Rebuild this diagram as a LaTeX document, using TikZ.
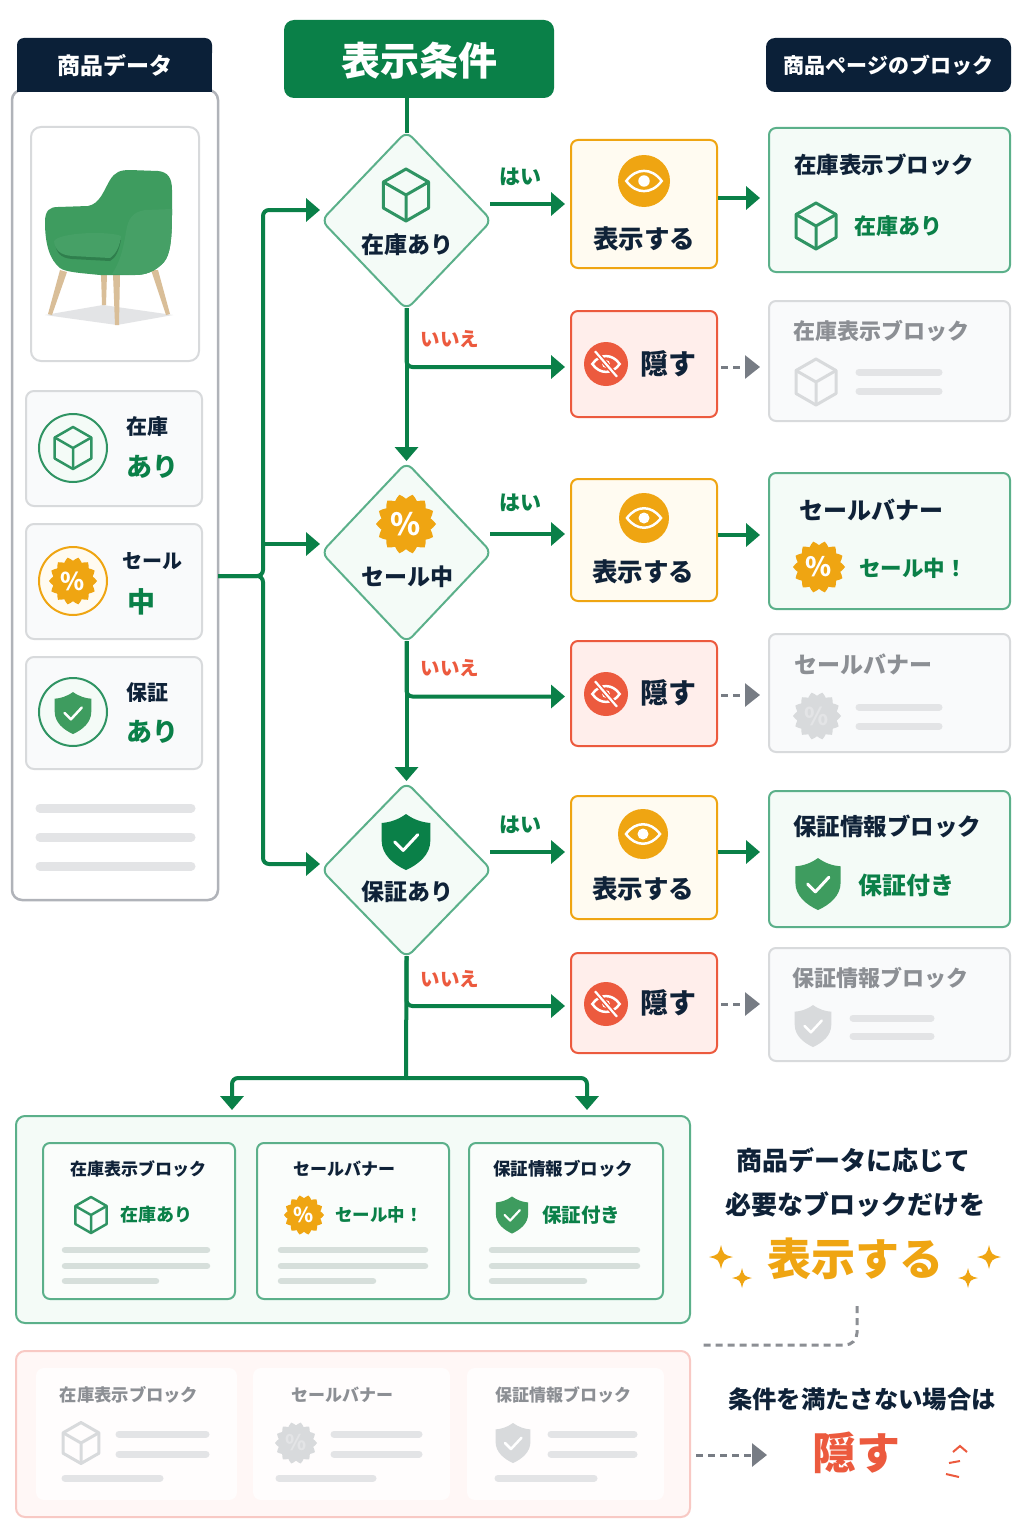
\documentclass[tikz,border=0pt]{standalone}
\usepackage{fontspec}
\setmainfont{Noto Sans CJK JP}
\usetikzlibrary{arrows.meta,shapes.geometric}

\definecolor{ink}{HTML}{0F2238}
\definecolor{navy}{HTML}{0B2038}
\definecolor{leaf}{HTML}{0A8048}
\definecolor{leafsoft}{HTML}{5BB08A}
\definecolor{mint}{HTML}{F4FBF7}
\definecolor{shieldgreen}{HTML}{3E9C5F}
\definecolor{cubegreen}{HTML}{2F9463}
\definecolor{chairdark}{HTML}{2F7F4D}
\definecolor{chairlight}{HTML}{46A066}
\definecolor{wood}{HTML}{D9BE98}
\definecolor{amber}{HTML}{EFA512}
\definecolor{amberpale}{HTML}{FFFBF1}
\definecolor{coral}{HTML}{EC5A3E}
\definecolor{coralpale}{HTML}{FFEEEB}
\definecolor{rosepale}{HTML}{FFF7F6}
\definecolor{rose}{HTML}{F8C9C4}
\definecolor{mute}{HTML}{8C8F94}
\definecolor{ghost}{HTML}{D8DADC}
\definecolor{ghostbar}{HTML}{E3E4E6}
\definecolor{ghostfill}{HTML}{F9FAFB}
\definecolor{edge}{HTML}{B0B3B9}
\definecolor{dash}{HTML}{777C84}
\definecolor{softbar}{HTML}{D6DFDB}

\tikzset{
	tx/.style={inner sep=0pt,font=\fontsize{#1}{#1}\selectfont\bfseries},
	sz/.style 2 args={minimum width=#1,minimum height=#2,inner sep=0pt},
	flow/.style={draw=leaf,line width=4pt},
	flowtip/.style={flow,-{Triangle[length=14pt,width=23pt]}},
	dashtip/.style={draw=dash,line width=3pt,dashed,dash pattern=on 7pt off 5pt,-{Triangle[length=15pt,width=23pt,color=dash]}},
	dianode/.style={diamond,draw=leafsoft,fill=mint,line width=2pt,rounded corners=8pt,inner sep=0pt},
	okbox/.style={rectangle,draw=leafsoft,fill=mint,line width=2pt,rounded corners=7pt},
	showbox/.style={rectangle,draw=amber,fill=amberpale,line width=2pt,rounded corners=7pt},
	hidebox/.style={rectangle,draw=coral,fill=coralpale,line width=2pt,rounded corners=7pt},
	offbox/.style={rectangle,draw=ghost,fill=ghostfill,line width=2pt,rounded corners=7pt},
	infobox/.style={rectangle,draw=ghost,fill=ghostfill,line width=2pt,rounded corners=8pt},
	ring/.style={circle,line width=2pt,minimum size=68pt,inner sep=0pt},
	skel/.style={line width=#1,line cap=round},
}

\newcommand{\cubeicon}[5]{
	\begin{scope}[shift={(#1,#2)},scale=#3]
		\draw[#4,line width=#5,line join=round] (0,-1) -- (0.87,-0.5) -- (0.87,0.5) -- (0,1) -- (-0.87,0.5) -- (-0.87,-0.5) -- cycle;
		\draw[#4,line width=#5,line join=round] (-0.87,-0.5) -- (0,0) -- (0.87,-0.5) (0,0) -- (0,1);
	\end{scope}
}
\newcommand{\badgeicon}[6]{
	\begin{scope}[shift={(#2,#3)},scale=#4]
		\fill[#5,line join=round] plot[domain=0:360,samples=57] (\x:{0.92+0.08*cos(14*\x)}) -- cycle;
	\end{scope}
	\pgfmathsetmacro{\pctsize}{#4*1.02}
	\node[tx=\pctsize,text=#6] (#1) at (#2,#3) {\%};
}
\newcommand{\shieldicon}[6]{
	\begin{scope}[shift={(#1,#2)},scale=#3]
		\fill[#4] (0,-1) .. controls (0.3,-0.78) and (0.6,-0.7) .. (0.87,-0.68) -- (0.87,-0.05) .. controls (0.87,0.45) and (0.45,0.8) .. (0,1) .. controls (-0.45,0.8) and (-0.87,0.45) .. (-0.87,-0.05) -- (-0.87,-0.68) .. controls (-0.6,-0.7) and (-0.3,-0.78) .. (0,-1) -- cycle;
		\draw[#5,line width=#6,line cap=round,line join=round] (-0.4,0) -- (-0.1,0.3) -- (0.42,-0.26);
	\end{scope}
}
\newcommand{\eyeicon}[3]{
	\fill[amber] (#1,#2) circle (#3);
	\begin{scope}[shift={(#1,#2)},scale=#3]
		\draw[white,line width=2.5pt] (-0.68,0) .. controls (-0.3,-0.52) and (0.3,-0.52) .. (0.68,0) .. controls (0.3,0.52) and (-0.3,0.52) .. (-0.68,0) -- cycle;
		\fill[white] (0,0) circle (0.22);
	\end{scope}
}
\newcommand{\hideicon}[3]{
	\fill[coral] (#1,#2) circle (#3);
	\begin{scope}[shift={(#1,#2)},scale=#3]
		\draw[white,line width=2.5pt] (-0.62,0) .. controls (-0.3,-0.48) and (0.3,-0.48) .. (0.62,0) .. controls (0.3,0.48) and (-0.3,0.48) .. (-0.62,0) -- cycle;
		\fill[white] (0,0) circle (0.18);
		\draw[coral,line width=5pt] (-0.5,-0.58) -- (0.5,0.58);
		\draw[white,line width=2.2pt] (-0.5,-0.58) -- (0.5,0.58);
	\end{scope}
}
\newcommand{\sparkicon}[3]{
	\begin{scope}[shift={(#1,#2)},scale=#3]
		\fill[amber] (0,-1) .. controls (0.2,-0.2) .. (1,0) .. controls (0.2,0.2) .. (0,1) .. controls (-0.2,0.2) .. (-1,0) .. controls (-0.2,-0.2) .. (0,-1) -- cycle;
	\end{scope}
}

\begin{document}
\begin{tikzpicture}[x=1pt,y=-1pt]
	\useasboundingbox (0,0) rectangle (1024,1536);
	\fill[white] (0,0) rectangle (1024,1536);

	\node[rectangle,draw=edge,fill=white,line width=2.5pt,rounded corners=10pt,sz={206}{810}] (dataPanel) at (115,495) {};
	\fill[navy,rounded corners=7pt] (17,60) -- (17,38) -- (212,38) -- (212,60) -- cycle;
	\fill[navy] (17,52) rectangle (212,92);
	\node[tx=23,text=white] (dataHead) at (115,66) {商品データ};
	\node[rectangle,fill=leaf,rounded corners=10pt,sz={270}{78}] (condHead) at (419,59) {};
	\node[tx=39,text=white] (condText) at (419.5,61) {表示条件};
	\node[rectangle,fill=navy,rounded corners=9pt,sz={245}{54},tx=21,text=white] (pageHead) at (888.5,65) {商品ページのブロック};

	\node[rectangle,draw=ghost,fill=white,line width=2pt,rounded corners=10pt,sz={168}{234}] (chairBox) at (115,244) {};
	\fill[ghostbar] (45,315) -- (103,305) -- (173,315) -- (117,325) -- cycle;
	\fill[wood] (60,270) -- (67,272) -- (52,315) -- (48,314) -- cycle;
	\fill[wood] (101,274) -- (107,274) -- (106,305) -- (102,305) -- cycle;
	\fill[wood] (113,274) -- (120,274) -- (119,325) -- (115,325) -- cycle;
	\fill[wood] (151,270) -- (158,270) -- (170,314) -- (166,315) -- cycle;
	\fill[shieldgreen] (45,222) .. controls (45,210) and (50,207) .. (58,207) -- (88,206) .. controls (100,204) and (104,190) .. (110,180) .. controls (115,172) and (120,170) .. (130,170) -- (158,171) .. controls (168,172) and (172,178) .. (172,190) -- (172,215) .. controls (172,240) and (170,255) .. (164,262) .. controls (155,272) and (145,275) .. (135,275) -- (100,275) .. controls (80,273) and (65,272) .. (60,268) .. controls (50,260) and (45,245) .. (45,222) -- cycle;
	\fill[chairlight] (172,209) -- (145,210) .. controls (133,212) and (128,218) .. (126,232) .. controls (123,250) and (120,262) .. (112,274) -- (135,275) .. controls (145,275) and (155,272) .. (164,262) .. controls (170,255) and (172,240) .. (172,215) -- cycle;
	\fill[chairdark] (55,243) .. controls (56,252) and (60,258) .. (72,259) -- (110,261) .. controls (116,258) and (119,250) .. (121,240) -- cycle;
	\fill[chairlight] (54,241) .. controls (60,232) and (110,231) .. (121,236) .. controls (120,246) and (116,254) .. (110,258) -- (72,256) .. controls (60,255) and (55,250) .. (54,241) -- cycle;

	\node[infobox,sz={176}{115}] (stockCard) at (114,448.5) {};
	\node[infobox,sz={176}{115}] (saleCard) at (114,581.5) {};
	\node[infobox,sz={176}{112}] (warrantyCard) at (114,713) {};
	\node[ring,draw=cubegreen,fill=mint] (stockRing) at (73,448) {};
	\node[ring,draw=amber,fill=amberpale] (saleRing) at (73,581) {};
	\node[ring,draw=cubegreen,fill=mint] (warrantyRing) at (73,712) {};
	\cubeicon{73}{448}{21}{cubegreen}{2.5pt}
	\badgeicon{salePct}{73}{581}{24}{amber}{white}
	\shieldicon{73}{713}{21}{shieldgreen}{white}{2.5pt}
	\node[tx=21,text=ink] (stockKey) at (147,427) {在庫};
	\node[tx=26,text=leaf] (stockVal) at (152,467) {あり};
	\node[tx=20,text=ink] (saleKey) at (152,561) {セール};
	\node[tx=28,text=leaf] (saleVal) at (141,602) {中};
	\node[tx=21,text=ink] (warrantyKey) at (147,693) {保証};
	\node[tx=26,text=leaf] (warrantyVal) at (152,732) {あり};
	\draw[skel=9pt,ghostbar] (40,808) -- (191,808);
	\draw[skel=9pt,ghostbar] (40,837) -- (191,837);
	\draw[skel=9pt,ghostbar] (40,866) -- (191,866);

	\node[dianode,sz={171}{179}] (dia1) at (406.5,220.5) {};
	\node[dianode,sz={171}{181}] (dia2) at (406.5,552.5) {};
	\node[dianode,sz={171}{176}] (dia3) at (406.5,870) {};
	\cubeicon{406}{195}{26}{cubegreen}{3pt}
	\badgeicon{diaPct}{406}{524}{30}{amber}{white}
	\shieldicon{406}{842}{28}{leaf}{white}{3pt}
	\node[tx=23,text=ink] (dia1Text) at (407.5,245) {在庫あり};
	\node[tx=23,text=ink] (dia2Text) at (407,577) {セール中};
	\node[tx=23,text=ink] (dia3Text) at (407.5,892) {保証あり};

	\node[showbox,sz={146}{128}] (show1) at (644,204) {};
	\node[hidebox,sz={146}{106}] (hide1) at (644,364) {};
	\node[showbox,sz={146}{122}] (show2) at (644,540) {};
	\node[hidebox,sz={146}{105}] (hide2) at (644,693.5) {};
	\node[showbox,sz={146}{123}] (show3) at (644,857.5) {};
	\node[hidebox,sz={146}{100}] (hide3) at (644,1003) {};
	\eyeicon{644}{181}{26}
	\eyeicon{644}{518}{25}
	\eyeicon{643}{834}{25}
	\hideicon{606}{364}{22}
	\hideicon{606}{694}{22}
	\hideicon{606}{1004}{22}
	\node[tx=25.5,text=ink] (show1Text) at (644,239) {表示する};
	\node[tx=25.5,text=ink] (show2Text) at (643,572) {表示する};
	\node[tx=25.5,text=ink] (show3Text) at (643,889) {表示する};
	\node[tx=28,text=ink] (hide1Text) at (668,364) {隠す};
	\node[tx=28,text=ink] (hide2Text) at (668,693) {隠す};
	\node[tx=28,text=ink] (hide3Text) at (668,1003) {隠す};

	\node[okbox,sz={241}{144}] (block1) at (889.5,200) {};
	\node[offbox,sz={241}{120}] (ghost1) at (889.5,361) {};
	\node[okbox,sz={241}{136}] (block2) at (889.5,541) {};
	\node[offbox,sz={241}{118}] (ghost2) at (889.5,693) {};
	\node[okbox,sz={241}{136}] (block3) at (889.5,859) {};
	\node[offbox,sz={241}{113}] (ghost3) at (889.5,1004.5) {};
	\node[tx=22.5,text=ink] (block1Title) at (884,165) {在庫表示ブロック};
	\node[tx=22,text=leaf] (block1Text) at (898,226) {在庫あり};
	\cubeicon{816}{226}{23}{cubegreen}{3pt}
	\node[tx=22,text=mute] (ghost1Title) at (881,331) {在庫表示ブロック};
	\cubeicon{816}{382}{23}{ghost}{3pt}
	\draw[skel=7pt,ghostbar] (859,372) -- (939,372);
	\draw[skel=7pt,ghostbar] (859,391) -- (939,391);
	\node[tx=24,text=ink] (block2Title) at (871,510) {セールバナー};
	\node[tx=21.5,text=leaf] (block2Text) at (913,568) {セール中！};
	\badgeicon{block2Pct}{819}{567}{26}{amber}{white}
	\node[tx=23,text=mute] (ghost2Title) at (863,664) {セールバナー};
	\badgeicon{ghost2Pct}{817}{716}{24}{ghost}{ghostbar}
	\draw[skel=7pt,ghostbar] (859,707) -- (939,707);
	\draw[skel=7pt,ghostbar] (859,726) -- (939,726);
	\node[tx=23.5,text=ink] (block3Title) at (887,826) {保証情報ブロック};
	\node[tx=24,text=leaf] (block3Text) at (906,885) {保証付き};
	\shieldicon{818}{884}{26}{shieldgreen}{white}{3pt}
	\node[tx=22,text=mute] (ghost3Title) at (880,978) {保証情報ブロック};
	\shieldicon{813}{1026}{21}{ghost}{white}{2.5pt}
	\draw[skel=7pt,ghostbar] (853,1018) -- (931,1018);
	\draw[skel=7pt,ghostbar] (853,1036) -- (931,1036);

	\coordinate (src) at (218,576);
	\coordinate (trunk) at (263,576);
	\coordinate (in1) at (320,210);
	\coordinate (in2) at (320,544);
	\coordinate (in3) at (320,864);
	\draw[flowtip,rounded corners=6pt] (src) -| (trunk |- in1) -- (in1);
	\draw[flowtip,rounded corners=6pt] (src) -| (trunk |- in3) -- (in3);
	\draw[flowtip] (trunk |- in2) -- (in2);

	\draw[flow,shorten >=-3pt] (dia1.north |- condHead.south) -- (dia1.north);
	\draw[flowtip,shorten <=-3pt] (dia1.south) -- (dia2.north);
	\draw[flowtip,shorten <=-3pt] (dia2.south) -- (dia3.north);

	\coordinate (yes2) at ([yshift=6pt]show2.west);
	\coordinate (yes3) at ([yshift=5.5pt]show3.west);
	\draw[flowtip,shorten >=5pt,shorten <=-3pt] (dia1.east |- show1.west) -- (show1.west);
	\draw[flowtip,shorten >=5pt,shorten <=-3pt] (dia2.east |- yes2) -- (yes2);
	\draw[flowtip,shorten >=5pt,shorten <=-3pt] (dia3.east |- yes3) -- (yes3);
	\draw[flowtip,rounded corners=6pt,shorten >=5pt,shorten <=-3pt] (dia1.south) |- ([yshift=-3pt]hide1.west);
	\draw[flowtip,rounded corners=6pt,shorten >=5pt,shorten <=-3pt] (dia2.south) |- ([yshift=-3pt]hide2.west);
	\draw[flowtip,rounded corners=6pt,shorten >=5pt,shorten <=-3pt] (dia3.south) |- ([yshift=-3pt]hide3.west);

	\draw[flowtip,shorten >=8pt] ([yshift=6pt]show1.east) -- ([yshift=6pt]show1.east -| block1.west);
	\draw[flowtip,shorten >=8pt] ([yshift=5pt]show2.east) -- ([yshift=5pt]show2.east -| block2.west);
	\draw[flowtip,shorten >=8pt] ([yshift=5.5pt]show3.east) -- ([yshift=5.5pt]show3.east -| block3.west);
	\draw[dashtip,shorten <=3pt,shorten >=8pt] ([yshift=-3pt]hide1.east) -- ([yshift=-3pt]hide1.east -| ghost1.west);
	\draw[dashtip,shorten <=3pt,shorten >=8pt] ([yshift=-1.5pt]hide2.east) -- ([yshift=-1.5pt]hide2.east -| ghost2.west);
	\draw[dashtip,shorten <=3pt,shorten >=8pt] ([yshift=-1pt]hide3.east) -- ([yshift=-1pt]hide3.east -| ghost3.west);

	\node[tx=21,text=leaf] (yesA) at (520,177) {はい};
	\node[tx=21,text=leaf] (yesB) at (520,503) {はい};
	\node[tx=21,text=leaf] (yesC) at (520,825) {はい};
	\node[tx=19.5,text=coral] (noA) at (450,339) {いいえ};
	\node[tx=19.5,text=coral] (noB) at (450,668) {いいえ};
	\node[tx=19.5,text=coral] (noC) at (450,979) {いいえ};

	\node[okbox,sz={674}{207},rounded corners=9pt] (okPanel) at (353,1219.5) {};
	\coordinate (split) at (406,1078);
	\coordinate (outL) at (232,1110);
	\coordinate (outR) at (587,1110);
	\draw[flow,shorten <=-3pt] (dia3.south) -- (split);
	\draw[flowtip,rounded corners=6pt] (split) -| (outL);
	\draw[flowtip,rounded corners=6pt] (split) -| (outR);

	\node[okbox,sz={192}{156},fill=white!50!mint] (okCard1) at (139,1221) {};
	\node[okbox,sz={192}{156},fill=white!50!mint] (okCard2) at (353,1221) {};
	\node[okbox,sz={194}{156},fill=white!50!mint] (okCard3) at (566,1221) {};
	\node[tx=17,text=ink] (okTitle1) at (138,1169) {在庫表示ブロック};
	\node[tx=17,text=ink] (okTitle2) at (344,1169) {セールバナー};
	\node[tx=17.5,text=ink] (okTitle3) at (563,1169) {保証情報ブロック};
	\cubeicon{91}{1215}{18}{cubegreen}{2.5pt}
	\badgeicon{okPct}{304}{1215}{20}{amber}{white}
	\shieldicon{512}{1215}{18.5}{shieldgreen}{white}{2.2pt}
	\node[tx=18,text=leaf] (okText1) at (156,1215) {在庫あり};
	\node[tx=17.5,text=leaf] (okText2) at (379,1215) {セール中！};
	\node[tx=19.5,text=leaf] (okText3) at (581,1215) {保証付き};
	\draw[skel=6.5pt,softbar] (65,1250) -- (207,1250);
	\draw[skel=6.5pt,softbar] (65,1266) -- (207,1266);
	\draw[skel=6.5pt,softbar] (65,1281) -- (156,1281);
	\draw[skel=6.5pt,softbar] (281,1250) -- (425,1250);
	\draw[skel=6.5pt,softbar] (281,1266) -- (425,1266);
	\draw[skel=6.5pt,softbar] (281,1281) -- (373,1281);
	\draw[skel=6.5pt,softbar] (492,1250) -- (637,1250);
	\draw[skel=6.5pt,softbar] (492,1266) -- (637,1266);
	\draw[skel=6.5pt,softbar] (492,1281) -- (584,1281);

	\node[rectangle,draw=rose,fill=rosepale,line width=2pt,rounded corners=9pt,sz={674}{166}] (offPanel) at (353,1434) {};
	\node[rectangle,fill=white!80!rosepale,rounded corners=8pt,sz={201}{132}] (offCard1) at (136.5,1434) {};
	\node[rectangle,fill=white!80!rosepale,rounded corners=8pt,sz={197}{132}] (offCard2) at (351.5,1434) {};
	\node[rectangle,fill=white!80!rosepale,rounded corners=8pt,sz={197}{132}] (offCard3) at (565.5,1434) {};
	\node[tx=17.3,text=mute] (offTitle1) at (129,1395) {在庫表示ブロック};
	\node[tx=17,text=mute] (offTitle2) at (342,1395) {セールバナー};
	\node[tx=17,text=mute] (offTitle3) at (563,1395) {保証情報ブロック};
	\cubeicon{81}{1443}{20.5}{ghost}{3pt}
	\badgeicon{offPct}{296}{1443}{21}{ghost}{ghostbar}
	\shieldicon{513}{1443}{20}{ghost}{white}{2.5pt}
	\draw[skel=7pt,ghostbar] (119,1434) -- (206,1434);
	\draw[skel=7pt,ghostbar] (119,1454) -- (206,1454);
	\draw[skel=7pt,ghostbar] (65,1478) -- (160,1478);
	\draw[skel=7pt,ghostbar] (334,1434) -- (419,1434);
	\draw[skel=7pt,ghostbar] (334,1454) -- (419,1454);
	\draw[skel=7pt,ghostbar] (279,1478) -- (373,1478);
	\draw[skel=7pt,ghostbar] (551,1434) -- (634,1434);
	\draw[skel=7pt,ghostbar] (551,1454) -- (634,1454);
	\draw[skel=7pt,ghostbar] (498,1478) -- (594,1478);

	\node[tx=26,text=ink] (noteA) at (853,1160) {商品データに応じて};
	\node[tx=26,text=ink] (noteB) at (855,1204) {必要なブロックだけを};
	\node[tx=44,text=amber] (noteShow) at (855,1259) {表示する};
	\sparkicon{721}{1257}{12}
	\sparkicon{742}{1278}{10}
	\sparkicon{989}{1257}{12}
	\sparkicon{968}{1278}{10}
	\coordinate (linkTop) at (857,1306);
	\coordinate (linkEnd) at (703,1345);
	\draw[draw=mute,line width=3pt,dashed,dash pattern=on 7pt off 5pt,rounded corners=12pt] (linkTop) |- (linkEnd);
	\node[tx=24.3,text=ink] (noteC) at (862,1399) {条件を満たさない場合は};
	\node[tx=44,text=coral] (noteHide) at (856,1453) {隠す};
	\coordinate (hideLink) at (767,1455);
	\draw[dashtip,shorten <=5pt] (offPanel.east |- hideLink) -- (hideLink);
	\draw[coral,line width=2pt] (953,1452) -- (960,1446) -- (967,1452);
	\draw[coral,line width=2pt] (949,1463) -- (960,1461);
	\draw[coral,line width=2pt] (946,1474) -- (959,1477);
\end{tikzpicture}
\end{document}
